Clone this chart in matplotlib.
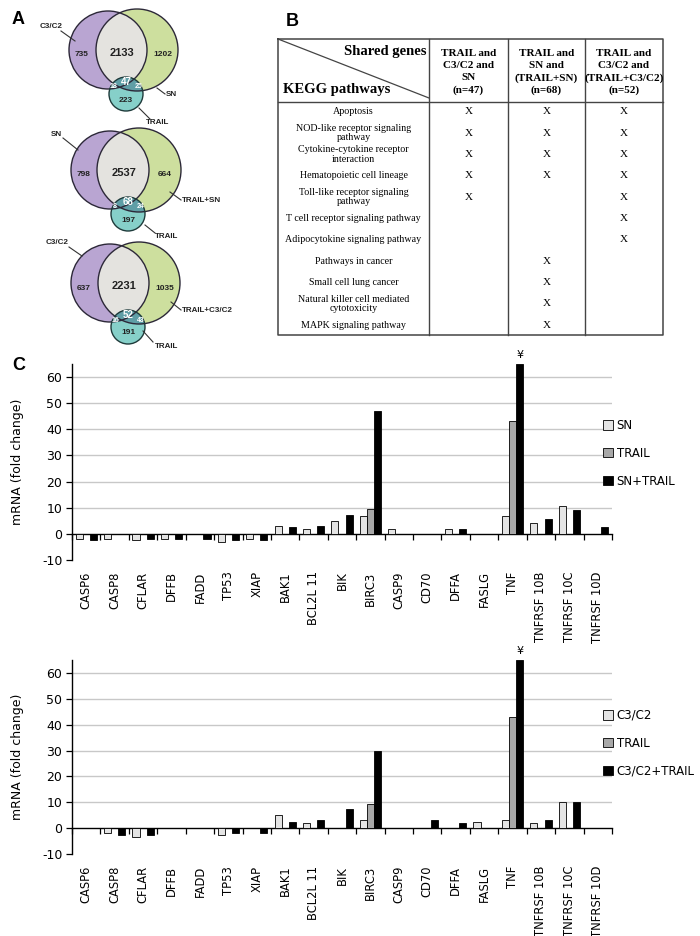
import numpy as np
import matplotlib
matplotlib.use("Agg")
import matplotlib.pyplot as plt
from matplotlib.patches import Circle, Patch

plt.rcParams["axes.unicode_minus"] = False

# ---------------- data ----------------
# Panel A: Venn counts [left only, purple&green, right only, small left, triple, small right, TRAIL only]
venn1_counts = [735, 2133, 1202, 18, 47, 25, 223]
venn2_counts = [798, 2537, 664, 8, 68, 24, 197]
venn3_counts = [637, 2231, 1035, 16, 52, 43, 191]
venn1_labels = ["C3/C2", "SN", "TRAIL"]
venn2_labels = ["SN", "TRAIL+SN", "TRAIL"]
venn3_labels = ["C3/C2", "TRAIL+C3/C2", "TRAIL"]

# Panel B: table
table_headers = ["TRAIL and\nC3/C2 and\nSN\n(n=47)",
                 "TRAIL and\nSN and\n(TRAIL+SN)\n(n=68)",
                 "TRAIL and\nC3/C2 and\n(TRAIL+C3/C2)\n(n=52)"]
pathways = ["Apoptosis",
            "NOD-like receptor signaling\npathway",
            "Cytokine-cytokine receptor\ninteraction",
            "Hematopoietic cell lineage",
            "Toll-like receptor signaling\npathway",
            "T cell receptor signaling pathway",
            "Adipocytokine signaling pathway",
            "Pathways in cancer",
            "Small cell lung cancer",
            "Natural killer cell mediated\ncytotoxicity",
            "MAPK signaling pathway"]
col1_marks = [1, 1, 1, 1, 1, 0, 0, 0, 0, 0, 0]
col2_marks = [1, 1, 1, 1, 0, 0, 0, 1, 1, 1, 1]
col3_marks = [1, 1, 1, 1, 1, 1, 1, 0, 0, 0, 0]

# Panel C: qPCR fold changes
genes = ["CASP6", "CASP8", "CFLAR", "DFFB", "FADD", "TP53", "XIAP", "BAK1",
         "BCL2L11", "BIK", "BIRC3", "CASP9", "CD70", "DFFA", "FASLG", "TNF",
         "TNFRSF10B", "TNFRSF10C", "TNFRSF10D"]
gene_labels = ["CASP6", "CASP8", "CFLAR", "DFFB", "FADD", "TP53", "XIAP", "BAK1",
               "BCL2L 11", "BIK", "BIRC3", "CASP9", "CD70", "DFFA", "FASLG", "TNF",
               "TNFRSF 10B", "TNFRSF 10C", "TNFRSF 10D"]
sn_vals       = [-2, -2, -2.5, -2, 0, -3, -2, 3, 2, 5, 7, 2, 0, 2, 0, 7, 4, 10.5, 0]
trail_vals1   = [0, 0, 0, 0, 0, 0, 0, 0, 0, 0, 9.5, 0, 0, 0, 0, 43, 0, 0, 0]
sn_trail_vals = [-2.5, 0, -2, -2, -2, -2.5, -2.5, 2.5, 3, 7.2, 47, 0, 0, 2, 0, 65, 5.5, 9, 2.5]
c3_vals       = [0, -2, -3.5, 0, 0, -2.5, 0, 5, 2, 0, 3, 0, 0, 0, 2.5, 3, 1.8, 10, 0]
trail_vals2   = [0, 0, 0, 0, 0, 0, 0, 0, 0, 0, 9.5, 0, 0, 0, 0, 43, 0, 0, 0]
c3_trail_vals = [0, -2.5, -2.5, 0, 0, -2, -2, 2.5, 3, 7.5, 30, 0, 3, 1.8, 0, 65, 3, 10, 0]
top_names = ["SN", "TRAIL", "SN+TRAIL"]
bot_names = ["C3/C2", "TRAIL", "C3/C2+TRAIL"]
marked_gene = "TNF"
yticks = [-10, 0, 10, 20, 30, 40, 50, 60]

# ---------------- figure ----------------
W, H = 700, 936
fig = plt.figure(figsize=(W / 100, H / 100), dpi=100)

ov = fig.add_axes([0, 0, 1, 1])
ov.set_xlim(0, W)
ov.set_ylim(H, 0)
ov.axis("off")

SANS = "Liberation Sans"
SERIF = "Liberation Serif"

# panel letters
for letter, (lx, ly) in zip("ABC", [(12, 20), (286, 21), (12, 366)]):
    ov.text(lx, ly, letter, fontsize=13, fontweight="bold", family=SANS,
            ha="left", va="center")

# ---------------- Panel A: Venns ----------------
def draw_venn(ox, oy, counts, labels, rp, rg, lab_pos):
    pc, gc = (ox - 15, oy), (ox + 14, oy)
    rc = 17
    cc = (ox + 3, oy + rp + 5)
    purple = Circle(pc, rp, facecolor="#b9a5d2", edgecolor="none")
    green = Circle(gc, rg, facecolor="#cddf9e", edgecolor="none")
    ov.add_patch(green)
    ov.add_patch(purple)
    overlap = Circle(gc, rg, facecolor="#e4e3df", edgecolor="none")
    ov.add_patch(overlap)
    overlap.set_clip_path(purple)
    # TRAIL circle
    ov.add_patch(Circle(cc, rc, facecolor="#86d0c9", edgecolor="none"))
    for clip in (purple, green):
        d = Circle(cc, rc, facecolor="#5f9ea6", edgecolor="none")
        ov.add_patch(d)
        d.set_clip_path(clip)
    # outlines
    for c, r in ((pc, rp), (gc, rg)):
        ov.add_patch(Circle(c, r, facecolor="none", edgecolor="#2c2838", lw=1.0))
    ov.add_patch(Circle(cc, rc, facecolor="none", edgecolor="#1f3b3b", lw=1.0))
    cy = cc[1]
    fs = 6
    ov.text(ox - 41, oy + 5, str(counts[0]), fontsize=fs, fontweight="bold", family=SANS, ha="center", va="center", color="#222")
    ov.text(ox - 1, oy + 3, str(counts[1]), fontsize=8, fontweight="bold", family=SANS, ha="center", va="center", color="#222")
    ov.text(ox + 40, oy + 5, str(counts[2]), fontsize=fs, fontweight="bold", family=SANS, ha="center", va="center", color="#222")
    ov.text(ox - 10, cy - 7, str(counts[3]), fontsize=5, fontweight="bold", family=SANS, ha="center", va="center", color="white")
    ov.text(ox + 3, cy - 12, str(counts[4]), fontsize=7, fontweight="bold", family=SANS, ha="center", va="center", color="white")
    ov.text(ox + 16, cy - 7, str(counts[5]), fontsize=5, fontweight="bold", family=SANS, ha="center", va="center", color="white")
    ov.text(ox + 3, cy + 6, str(counts[6]), fontsize=fs, fontweight="bold", family=SANS, ha="center", va="center", color="#222")
    for (tx, ty, x0, y0, x1, y1, ha), lab in zip(lab_pos, labels):
        ov.plot([x0, x1], [y0, y1], color="#333", lw=0.8)
        ov.text(tx, ty, lab, fontsize=5.8, fontweight="bold", family=SANS, ha=ha, va="center", color="#222")

draw_venn(123, 50, venn1_counts, venn1_labels, 39, 41,
          [(62, 27, 61, 31, 75, 41, "right"),
           (166, 95, 157, 88, 165, 94, "left"),
           (146, 123, 139, 108, 150, 119, "left")])
draw_venn(125, 170, venn2_counts, venn2_labels, 39, 42,
          [(62, 135, 63, 138, 78, 150, "right"),
           (182, 201, 170, 192, 181, 200, "left"),
           (155, 237, 145, 225, 155, 233, "left")])
draw_venn(125, 283, venn3_counts, venn3_labels, 39, 41,
          [(69, 243, 69, 247, 82, 256, "right"),
           (182, 311, 171, 302, 181, 310, "left"),
           (155, 346, 143, 331, 153, 342, "left")])

# ---------------- Panel B: table ----------------
tx = [278, 429, 508, 585, 663]
t_top, t_head, t_bot = 39, 102, 335
lc = "#444"
ov.plot([tx[0], tx[-1], tx[-1], tx[0], tx[0]], [t_top, t_top, t_bot, t_bot, t_top], color=lc, lw=1.1)
for xv in tx[1:-1]:
    ov.plot([xv, xv], [t_top, t_bot], color=lc, lw=1.0)
ov.plot([tx[0], tx[-1]], [t_head, t_head], color=lc, lw=1.0)
ov.plot([tx[0], tx[1]], [t_top, 98], color=lc, lw=0.9)
ov.text(426, 52, "Shared genes", fontsize=10.5, fontweight="bold", family=SERIF, ha="right", va="center")
ov.text(283, 89, "KEGG pathways", fontsize=10.5, fontweight="bold", family=SERIF, ha="left", va="center")
for i, hdr in enumerate(table_headers):
    ov.text((tx[i + 1] + tx[i + 2]) / 2, 72, hdr, fontsize=8, fontweight="bold", family=SERIF,
            ha="center", va="center", linespacing=1.45)
row_y = np.linspace(112, 325, len(pathways))
for j, (pw, yv) in enumerate(zip(pathways, row_y)):
    ov.text((tx[0] + tx[1]) / 2, yv, pw, fontsize=7.2, family=SERIF, ha="center", va="center",
            linespacing=1.05)
    for c, marks in enumerate([col1_marks, col2_marks, col3_marks]):
        if marks[j]:
            ov.text((tx[c + 1] + tx[c + 2]) / 2, yv, "X", fontsize=8, family=SERIF,
                    ha="center", va="center")

# ---------------- Panel C: bar charts ----------------
colors = ["#e4e4e4", "#a8a8a8", "#000000"]

def bar_panel(rect, series, names, legend_top):
    ax = fig.add_axes(rect)
    x = np.arange(len(genes))
    w = 0.25
    for i, (vals, c) in enumerate(zip(series, colors)):
        ax.bar(x + (i - 1) * w, vals, w, color=c, edgecolor="black", linewidth=0.6, zorder=3)
    ax.set_xlim(-0.5, len(genes) - 0.5)
    ax.set_ylim(-10, 65)
    for yv in yticks:
        if yv > 0:
            ax.axhline(yv, color="#c8c8c8", lw=1.0, zorder=1)
    ax.set_yticks(yticks)
    ax.tick_params(axis="y", labelsize=9, length=4, width=0.9, direction="out", pad=3)
    for s in ["top", "right"]:
        ax.spines[s].set_visible(False)
    ax.spines["left"].set_linewidth(1.0)
    ax.spines["bottom"].set_position(("data", 0))
    ax.spines["bottom"].set_linewidth(1.0)
    ax.set_xticks(np.arange(-0.5, len(genes)), minor=False)
    ax.set_xticklabels([])
    ax.tick_params(axis="x", which="major", length=4, width=0.9, direction="out")
    ax.set_xticks(x, minor=True)
    ax.set_xticklabels(gene_labels, minor=True, rotation=90, fontsize=8.3, va="top", ha="center")
    ax.tick_params(axis="x", which="minor", length=0, pad=27)
    ax.set_ylabel("mRNA (fold change)", fontsize=9)
    ax.yaxis.set_label_coords(-0.088, 0.5)
    # marker above off-scale bar
    k = genes.index(marked_gene)
    ax.text(k + w, series[2][k] + 1.5, "¥", ha="center", va="bottom", fontsize=8,
            family="DejaVu Sans", clip_on=False)
    handles = [Patch(facecolor=c, edgecolor="black", linewidth=0.6) for c in colors]
    ax.legend(handles, names, loc="upper left", bbox_to_anchor=(603 / W, 1 - legend_top / H),
              bbox_transform=fig.transFigure, frameon=False, fontsize=8.5,
              handlelength=0.85, handleheight=0.85, handletextpad=0.3,
              labelspacing=1.25, borderpad=0, borderaxespad=0)
    return ax

bar_panel([72 / W, 1 - 560 / H, 540 / W, 196 / H],
          [sn_vals, trail_vals1, sn_trail_vals], top_names, 419)
bar_panel([72 / W, 1 - 854 / H, 540 / W, 194 / H],
          [c3_vals, trail_vals2, c3_trail_vals], bot_names, 709)

fig.savefig("out.png", dpi=100)
